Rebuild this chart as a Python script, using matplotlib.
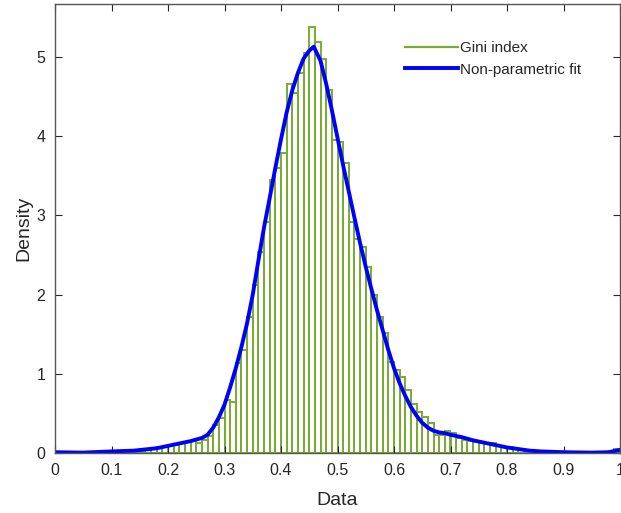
import matplotlib
matplotlib.use("Agg")
import matplotlib.pyplot as plt
from matplotlib.lines import Line2D

plt.rcParams['font.family'] = ['Liberation Sans', 'DejaVu Sans']

# Histogram bins (left edges, width 0.01) and density heights
bin_width = 0.01
bin_left = [round(i * 0.01, 2) for i in range(100)]
bin_density = [
    0.01, 0.00, 0.01, 0.00, 0.01, 0.00, 0.00, 0.01, 0.01, 0.01,   # 0.00-0.09
    0.01, 0.02, 0.02, 0.02, 0.03, 0.03, 0.05, 0.05, 0.07, 0.08,   # 0.10-0.19
    0.09, 0.11, 0.12, 0.14, 0.15, 0.13, 0.16, 0.21, 0.35, 0.44,   # 0.20-0.29
    0.67, 0.65, 1.13, 1.30, 1.72, 2.12, 2.54, 2.92, 3.45, 3.60,   # 0.30-0.39
    3.79, 4.66, 4.55, 4.80, 5.05, 5.38, 5.19, 4.98, 4.58, 3.95,   # 0.40-0.49
    3.93, 3.66, 2.92, 2.70, 2.60, 2.35, 2.00, 1.72, 1.51, 1.15,   # 0.50-0.59
    1.05, 0.96, 0.80, 0.62, 0.52, 0.45, 0.38, 0.23, 0.23, 0.28,   # 0.60-0.69
    0.25, 0.19, 0.17, 0.15, 0.14, 0.13, 0.11, 0.13, 0.09, 0.08,   # 0.70-0.79
    0.07, 0.06, 0.05, 0.04, 0.03, 0.02, 0.02, 0.01, 0.01, 0.01,   # 0.80-0.89
    0.01, 0.01, 0.00, 0.01, 0.01, 0.00, 0.01, 0.01, 0.02, 0.05,   # 0.90-0.99
]

# Non-parametric fit (read points)
fit_x = [0.00, 0.05, 0.10, 0.14, 0.18, 0.20, 0.22, 0.24, 0.26, 0.27, 0.28,
         0.29, 0.30, 0.31, 0.32, 0.33, 0.34, 0.35, 0.36, 0.37, 0.38, 0.39,
         0.40, 0.41, 0.42, 0.43, 0.44, 0.45, 0.458, 0.47, 0.48, 0.49, 0.50,
         0.51, 0.52, 0.53, 0.54, 0.55, 0.56, 0.57, 0.58, 0.59, 0.60, 0.61,
         0.62, 0.63, 0.64, 0.65, 0.66, 0.67, 0.68, 0.69, 0.70, 0.72, 0.74,
         0.76, 0.78, 0.80, 0.82, 0.84, 0.86, 0.90, 0.95, 0.98, 1.00]
fit_y = [0.01, 0.005, 0.02, 0.03, 0.06, 0.09, 0.12, 0.15, 0.19, 0.23, 0.32,
         0.45, 0.61, 0.83, 1.07, 1.34, 1.64, 2.00, 2.43, 2.85, 3.22, 3.60,
         3.96, 4.30, 4.58, 4.80, 4.98, 5.08, 5.13, 4.95, 4.66, 4.33, 3.98,
         3.63, 3.30, 2.97, 2.65, 2.35, 2.07, 1.80, 1.55, 1.30, 1.07, 0.88,
         0.72, 0.58, 0.47, 0.38, 0.32, 0.28, 0.26, 0.25, 0.23, 0.20, 0.16,
         0.13, 0.10, 0.07, 0.05, 0.03, 0.02, 0.01, 0.005, 0.01, 0.04]

xticks = [0, 0.1, 0.2, 0.3, 0.4, 0.5, 0.6, 0.7, 0.8, 0.9, 1]
xtick_labels = ['0', '0.1', '0.2', '0.3', '0.4', '0.5', '0.6', '0.7', '0.8', '0.9', '1']
yticks = [0, 1, 2, 3, 4, 5]

green = '#77AC30'
blue = '#0000FF'
axcol = '#262626'

fig = plt.figure(figsize=(6.21, 5.13), dpi=100)
ax = fig.add_axes([55 / 621, (513 - 453) / 513, (620 - 55) / 621, (453 - 4.3) / 513])

ax.bar(bin_left, bin_density, width=bin_width, align='edge', facecolor='none',
       edgecolor=green, linewidth=1.4)
ax.plot(fit_x, fit_y, color=blue, linewidth=2.8, solid_joinstyle='round')

ax.set_xlim(0, 1)
ax.set_ylim(0, 5.665)
ax.set_xticks(xticks)
ax.set_xticklabels(xtick_labels)
ax.set_yticks(yticks)
ax.tick_params(direction='in', length=5, width=0.8, colors=axcol, labelsize=11.5,
               top=True, right=True, pad=7)
for s in ax.spines.values():
    s.set_color('#555555')
    s.set_linewidth(1.0)

ax.set_xlabel('Data', fontsize=14, color=axcol, labelpad=10)
ax.set_ylabel('Density', fontsize=14, color=axcol, labelpad=3)

handles = [Line2D([], [], color=green, linewidth=1.6),
           Line2D([], [], color=blue, linewidth=2.8)]
leg = ax.legend(handles, ['Gini index', 'Non-parametric fit'], loc='upper left',
                bbox_to_anchor=((405 - 55) / 565, (453 - 41) / 448.7),
                borderaxespad=0, borderpad=0, frameon=False, fontsize=11,
                handlelength=3.45, handletextpad=0.15, labelspacing=0.5)
for t in leg.get_texts():
    t.set_color(axcol)

fig.savefig('out.png', dpi=100)
